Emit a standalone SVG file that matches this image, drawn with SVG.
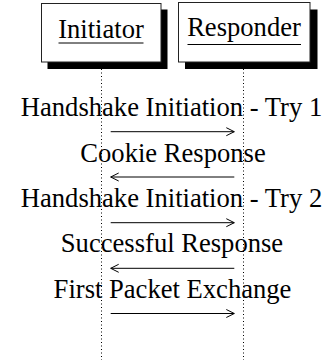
<svg xmlns="http://www.w3.org/2000/svg" width="330" height="360" viewBox="0 0 330 360">
<style>
.shadow{fill:#000}
.box{fill:#fff;stroke:#222;stroke-width:1}
.lbl{font-family:'Liberation Serif','Times New Roman',Times,'DejaVu Serif',serif;font-size:26.6px;fill:#000;text-anchor:middle}
.ul{stroke:#000;stroke-width:1}
.life{stroke:#000;stroke-width:1;stroke-dasharray:1 2.5;fill:none}
.msg{stroke:#000;stroke-width:1;fill:none}
</style>
<defs>
<marker id="ah" viewBox="0 0 10 10" refX="9" refY="5" markerWidth="10" markerHeight="10" markerUnits="userSpaceOnUse" orient="auto">
<path d="M1,1 L9,5 L1,9" fill="none" stroke="#000" stroke-width="1"/>
</marker>
</defs>
<rect width="330" height="360" fill="#fff"/>
<g id="lifelines">
<line class="life" x1="101.5" y1="69" x2="101.5" y2="360"/>
<line class="life" x1="243.5" y1="69" x2="243.5" y2="360"/>
</g>
<g id="initiator">
<rect class="shadow" x="47.5" y="9.5" width="120" height="59.5"/>
<rect class="box" x="41.5" y="3.5" width="119.5" height="58.5"/>
<text class="lbl" x="101" y="37.5" font-family="Liberation Serif, serif">Initiator</text>
<line class="ul" x1="58.5" y1="43" x2="143.5" y2="43"/>
</g>
<g id="responder">
<rect class="shadow" x="185" y="9.5" width="132.5" height="59.5"/>
<rect class="box" x="178.5" y="2.5" width="131.5" height="59.5"/>
<text class="lbl" x="244" y="35.7" font-family="Liberation Serif, serif">Responder</text>
<line class="ul" x1="187.5" y1="44.5" x2="301" y2="44.5"/>
</g>
<g id="connectors">
<line class="msg" x1="110.7" y1="131.7" x2="234.3" y2="131.7" marker-end="url(#ah)"/>
<line class="msg" x1="234.3" y1="177" x2="110.7" y2="177" marker-end="url(#ah)"/>
<line class="msg" x1="110.7" y1="222.7" x2="234.3" y2="222.7" marker-end="url(#ah)"/>
<line class="msg" x1="234.3" y1="268.3" x2="110.7" y2="268.3" marker-end="url(#ah)"/>
<line class="msg" x1="110.7" y1="313.5" x2="234.3" y2="313.5" marker-end="url(#ah)"/>
</g>
<g id="labels">
<text class="lbl" x="171.5" y="116">Handshake Initiation - Try 1</text>
<text class="lbl" x="173" y="161.5">Cookie Response</text>
<text class="lbl" x="171.5" y="206.5">Handshake Initiation - Try 2</text>
<text class="lbl" x="172" y="252.3">Successful Response</text>
<text class="lbl" x="172.5" y="297.8">First Packet Exchange</text>
</g>
</svg>
